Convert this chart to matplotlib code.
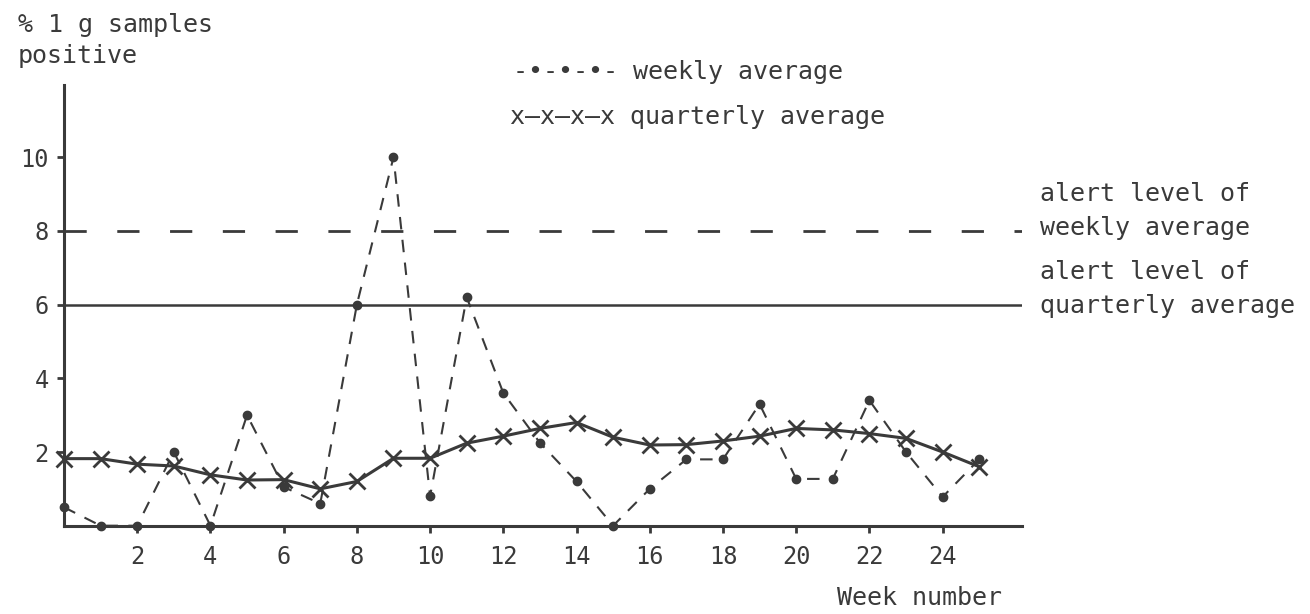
import matplotlib
matplotlib.use("Agg")
import matplotlib.pyplot as plt

# weekly average (dots, dashed) and quarterly average (x, solid)
weeks_weekly = list(range(0, 26))
weekly = [0.5, 0.0, 0.0, 2.0, 0.0, 3.0, 1.05, 0.6, 6.0, 10.0,
          0.8, 6.2, 3.6, 2.25, 1.2, 0.0, 1.0, 1.8, 1.8, 3.3,
          1.27, 1.27, 3.4, 2.0, 0.78, 1.8]
weeks_quarterly = list(range(0, 26))
quarterly = [1.82, 1.82, 1.67, 1.62, 1.38, 1.24, 1.25, 1.0, 1.2, 1.83,
             1.83, 2.24, 2.43, 2.64, 2.8, 2.4, 2.19, 2.2, 2.3, 2.43,
             2.64, 2.6, 2.5, 2.37, 2.0, 1.6]
alert_weekly = 8
alert_quarterly = 6
xticks = list(range(2, 25, 2))
yticks = [2, 4, 6, 8, 10]

ink = "#3a3a3a"
W, H = 1310, 614
mono = "DejaVu Sans Mono"

fig = plt.figure(figsize=(W / 100, H / 100), dpi=100)
ax = fig.add_axes([64 / W, 1 - 525.7 / H, (1021.7 - 64) / W, (525.7 - 85) / H])
ax.set_xlim(0, 26.16)
ax.set_ylim(0, 11.96)

ax.axhline(alert_weekly, color=ink, lw=2, dashes=(8, 11))
ax.axhline(alert_quarterly, color=ink, lw=1.8)

ax.plot(weeks_weekly, weekly, color=ink, lw=1.5, dashes=(6, 5),
        marker="o", ms=6, mfc=ink, mec=ink, clip_on=False)
ax.plot(weeks_quarterly, quarterly, color=ink, lw=2.2,
        marker="x", ms=11, mew=2, clip_on=False)

for s in ["top", "right"]:
    ax.spines[s].set_visible(False)
for s in ["left", "bottom"]:
    ax.spines[s].set_linewidth(2.2)
    ax.spines[s].set_color(ink)

ax.set_xticks(xticks)
ax.set_yticks(yticks)
ax.tick_params(axis="both", colors=ink, width=2, length=5, labelsize=17)
ax.tick_params(axis="x", pad=9)
ax.tick_params(axis="y", pad=6)
for lab in ax.get_xticklabels() + ax.get_yticklabels():
    lab.set_family(mono)
    lab.set_color(ink)


def ftext(x, y, s, **kw):
    fig.text(x / W, 1 - y / H, s, family=mono, fontsize=18, color=ink, **kw)


ftext(18, 25, "% 1 g samples", va="center")
ftext(18, 56, "positive", va="center")
ftext(513, 72, "-\u2022-\u2022-\u2022- weekly average", va="center")
ftext(510, 117, "x\u2014x\u2014x\u2014x quarterly average", va="center")
ftext(1040, 194, "alert level of", va="center")
ftext(1040, 228, "weekly average", va="center")
ftext(1040, 272, "alert level of", va="center")
ftext(1040, 306, "quarterly average", va="center")
ftext(837, 598, "Week number", va="center")

fig.savefig("out.png", dpi=100, facecolor="white")
